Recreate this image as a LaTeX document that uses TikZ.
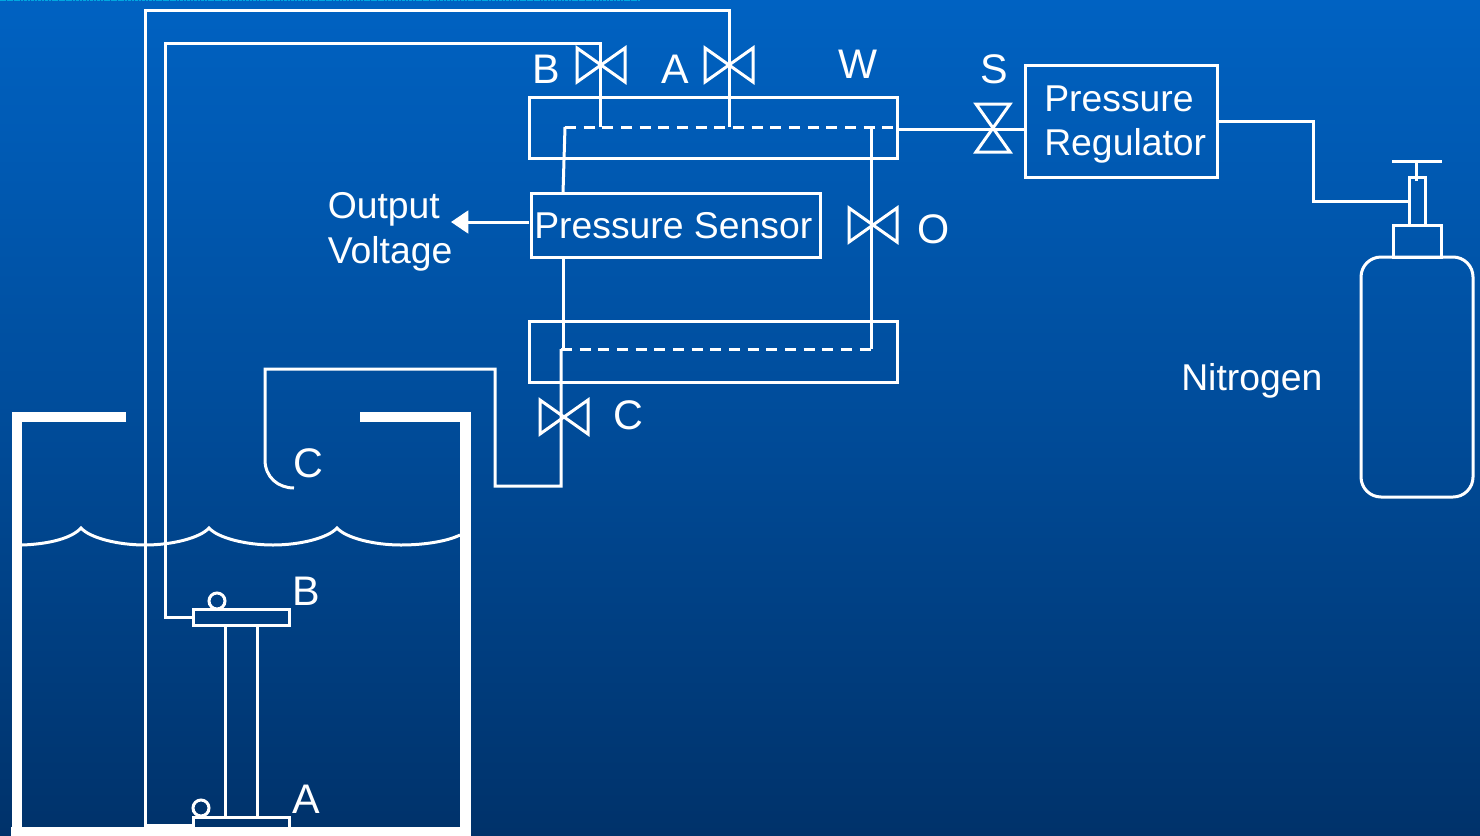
\documentclass[tikz,border=0pt]{standalone}
\usepackage{fontspec}
\setmainfont{Liberation Sans}
\usetikzlibrary{arrows.meta}
\definecolor{bgtop}{HTML}{0062C2}
\definecolor{bgmid}{HTML}{004C9A}
\definecolor{bgbot}{HTML}{00326A}
\definecolor{stripe}{HTML}{00A8E0}
\def\px{0.75pt}
\tikzset{
  wire/.style={draw=white,line width=2.25pt,line join=miter},
  thin wire/.style={draw=white,line width=2.25pt,line join=miter},
  tank/.style={draw=white,line width=8pt,line join=miter},
  dashwire/.style={draw=white,line width=2.25pt,dash pattern=on 8.3pt off 5.7pt},
  box/.style={draw=white,line width=2.25pt,inner sep=0pt,fill=none},
  plate/.style={draw=white,line width=2.25pt,inner sep=0pt,fill=none},
  smalltxt/.style={text=white,inner sep=0pt,anchor=base west,font=\fontsize{28pt}{33pt}\selectfont},
  bigtxt/.style={text=white,inner sep=0pt,anchor=base,font=\fontsize{31pt}{36pt}\selectfont},
  valveh/.pic={\draw[wire] (-24,-17) -- (24,17) -- (24,-17) -- (-24,17) -- cycle;},
  valvev/.pic={\draw[wire] (-17,-24) -- (17,-24) -- (-17,24) -- (17,24) -- cycle;}
}
\begin{document}
\begin{tikzpicture}[x=0.75pt,y=-0.75pt]
\useasboundingbox (0,0) rectangle (1480,835);
\clip (0,0) rectangle (1480,835);
\shade[top color=bgtop,bottom color=bgbot,middle color=bgmid] (0,0) rectangle (1480,835);
\draw[stripe,line width=1pt,dash pattern=on 2pt off 0.6pt] (0,0.6) -- (640,0.6);

% boxes
\node[box,minimum width=368*\px,minimum height=61*\px] (wbox) at (713,127.5) {};
\node[box,minimum width=368*\px,minimum height=61*\px] (cbox) at (713,351.5) {};
\node[box,minimum width=289*\px,minimum height=64*\px] (sensor) at (675.5,225) {};
\node[box,minimum width=192*\px,minimum height=112*\px] (reg) at (1121,121) {};
\node[smalltxt] (sensortxt) at (534,238.5) {Pressure Sensor};
\node[smalltxt] (regtxta) at (1044,111) {Pressure};
\node[smalltxt] (regtxtb) at (1044,155) {Regulator};
\node[smalltxt] (outa) at (327.5,218) {Output};
\node[smalltxt] (outb) at (327.5,263) {Voltage};
\node[smalltxt] (nitro) at (1181,390) {Nitrogen};

% labels
\node[bigtxt] (lb) at (546.5,83) {B};
\node[bigtxt] (la) at (675,83) {A};
\node[bigtxt] (lw) at (858,78) {W};
\node[bigtxt] (ls) at (994.5,83) {S};
\node[bigtxt] (lo) at (933.5,243) {O};
\node[bigtxt] (lc) at (628,429) {C};
\node[bigtxt] (lct) at (308,477) {C};
\node[bigtxt] (lbt) at (306.5,605) {B};
\node[bigtxt] (lat) at (306.5,813) {A};

% valves
\pic at (601,65) {valveh};
\pic at (729,65) {valveh};
\pic at (873,225) {valveh};
\pic at (564,417) {valveh};
\pic at (993,128) {valvev};

% tank
\draw[tank] (126,417) -- (17,417) -- (17,840);
\draw[tank] (360,417) -- (465.5,417) -- (465.5,840);
\draw[tank] (11,832.5) -- (471,832.5);

% water surface
\draw[thin wire] (22,545) .. controls (50,544) and (72,538) .. (81,528)
  .. controls (90,538) and (118,545) .. (145,545)
  .. controls (172,545) and (200,538) .. (209,528)
  .. controls (218,538) and (246,545) .. (273,545)
  .. controls (300,545) and (328,538) .. (337,528)
  .. controls (346,538) and (374,545) .. (401,545)
  .. controls (425,545) and (448,541) .. (460,535);

% float plates and column
\node[plate,minimum width=96*\px,minimum height=16*\px] (plateb) at (241,617) {};
\node[plate,minimum width=96*\px,minimum height=12*\px] (platea) at (241,823) {};
\node[draw=white,line width=2.25pt,circle,inner sep=0pt,minimum size=16*\px] (ballb) at (217,601) {};
\node[draw=white,line width=2.25pt,circle,inner sep=0pt,minimum size=16*\px] (balla) at (201,808) {};
\coordinate (colat) at (225,626);
\coordinate (colab) at (225,817);
\coordinate (colbt) at (257,626);
\coordinate (colbb) at (257,817);
\draw[thin wire] (colat) -- (colab);
\draw[thin wire] (colbt) -- (colbb);

% lines to the plates
\coordinate (acornb) at (145,825);
\coordinate (acornt) at (145,10);
\coordinate (acornr) at (729,10);
\coordinate (adash) at (729,127);
\coordinate (bcornb) at (165,617);
\coordinate (bcornt) at (165,43);
\coordinate (bcornr) at (600,43);
\coordinate (bdash) at (600,127);
\draw[thin wire] (193,825) -- (acornb) -- (acornt) -- (acornr) -- (adash);
\draw[thin wire] (plateb.west) -- (bcornb) -- (bcornt) -- (bcornr) -- (bdash);

% dashed manifolds
\coordinate (wl) at (565,127);
\coordinate (wr) at (897,127);
\coordinate (cl) at (561,349);
\coordinate (cr) at (871,349);
\coordinate (wo) at (871,127);
\draw[dashwire] (wl) -- (wr);
\draw[dashwire] (cl) -- (cr);
\draw[thin wire] (wo) -- (cr);

% sensor connections
\coordinate (senst) at (563,193);
\coordinate (sensb) at (563,257);
\coordinate (cjoin) at (563,349);
\draw[thin wire] (wl) -- (senst);
\draw[thin wire] (sensb) -- (cjoin);

% vent line C
\coordinate (cb) at (561,486);
\coordinate (cbl) at (495,486);
\coordinate (cbt) at (495,369);
\coordinate (chk) at (265,369);
\coordinate (chk2) at (265,460);
\coordinate (chk3) at (294,488);
\draw[thin wire] (cl) -- (cb) -- (cbl) -- (cbt) -- (chk) -- (chk2) .. controls (265,477) and (278,488) .. (chk3);

% S line
\coordinate (wexit) at (897,129);
\coordinate (regin) at (1025,129);
\draw[thin wire] (wexit) -- (regin);

% cylinder
\node[draw=white,line width=2.25pt,rounded corners=20*\px,inner sep=0pt,minimum width=112*\px,minimum height=240*\px] (cyl) at (1417,377) {};
\node[box,minimum width=48*\px,minimum height=32*\px] (neck) at (1417,241) {};
\node[box,minimum width=16*\px,minimum height=48*\px] (stem) at (1417,201) {};
\coordinate (tl) at (1392,161);
\coordinate (tr) at (1442,161);
\coordinate (tm) at (1416,161);
\coordinate (tb) at (1416,181);
\draw[thin wire] (tl) -- (tr);
\draw[thin wire] (tm) -- (tb);

% regulator to cylinder
\coordinate (rr) at (1217,121);
\coordinate (r1) at (1313,121);
\coordinate (r2) at (1313,201);
\draw[thin wire] (rr) -- (r1) -- (r2) -- (stem.west);

% output arrow
\coordinate (outtip) at (451,222);
\coordinate (outst) at (529,222);
\draw[wire,-{Triangle[length=13pt,width=17pt]}] (outst) -- (outtip);
\end{tikzpicture}
\end{document}
